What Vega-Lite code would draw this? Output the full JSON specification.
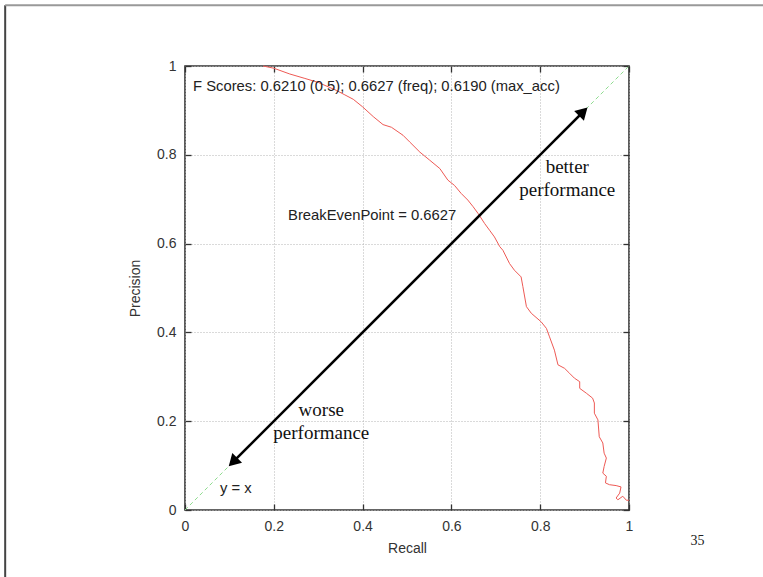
{
  "$schema": "https://vega.github.io/schema/vega-lite/v6.json",
  "width": 444,
  "height": 444,
  "autosize": "none",
  "padding": {"left": 185, "top": 66, "right": 134, "bottom": 67},
  "background": "white",
  "config": {
    "view": {"stroke": "#333333", "strokeWidth": 1.6},
    "axis": {
      "domain": false,
      "labelFont": "Liberation Sans",
      "labelFontSize": 14,
      "labelColor": "#333333",
      "titleFont": "Liberation Sans",
      "titleFontSize": 14,
      "titleFontWeight": "normal",
      "titleColor": "#333333",
      "tickColor": "#333333",
      "tickWidth": 1.3,
      "tickSize": -6,
      "gridColor": "#b5b5b5",
      "gridDash": [1, 2],
      "gridWidth": 1
    }
  },
  "datasets": {
    "diag": [{"recall": 0, "precision": 0}, {"recall": 1, "precision": 1}],
    "pr": [
      {"i": 0, "recall": 0.176, "precision": 1.0},
      {"i": 1, "recall": 0.2, "precision": 0.995},
      {"i": 2, "recall": 0.236, "precision": 0.982},
      {"i": 3, "recall": 0.27, "precision": 0.972},
      {"i": 4, "recall": 0.3, "precision": 0.963},
      {"i": 5, "recall": 0.341, "precision": 0.945},
      {"i": 6, "recall": 0.36, "precision": 0.935},
      {"i": 7, "recall": 0.379, "precision": 0.925},
      {"i": 8, "recall": 0.4, "precision": 0.908},
      {"i": 9, "recall": 0.424, "precision": 0.886},
      {"i": 10, "recall": 0.446, "precision": 0.868},
      {"i": 11, "recall": 0.465, "precision": 0.862},
      {"i": 12, "recall": 0.491, "precision": 0.844},
      {"i": 13, "recall": 0.506, "precision": 0.829},
      {"i": 14, "recall": 0.529, "precision": 0.806},
      {"i": 15, "recall": 0.551, "precision": 0.788},
      {"i": 16, "recall": 0.574, "precision": 0.769},
      {"i": 17, "recall": 0.592, "precision": 0.743},
      {"i": 18, "recall": 0.607, "precision": 0.731},
      {"i": 19, "recall": 0.622, "precision": 0.713},
      {"i": 20, "recall": 0.637, "precision": 0.698},
      {"i": 21, "recall": 0.649, "precision": 0.683},
      {"i": 22, "recall": 0.66, "precision": 0.668},
      {"i": 23, "recall": 0.675, "precision": 0.645},
      {"i": 24, "recall": 0.686, "precision": 0.63},
      {"i": 25, "recall": 0.697, "precision": 0.615},
      {"i": 26, "recall": 0.709, "precision": 0.593},
      {"i": 27, "recall": 0.716, "precision": 0.585},
      {"i": 28, "recall": 0.731, "precision": 0.555},
      {"i": 29, "recall": 0.742, "precision": 0.54},
      {"i": 30, "recall": 0.757, "precision": 0.525},
      {"i": 31, "recall": 0.761, "precision": 0.503},
      {"i": 32, "recall": 0.769, "precision": 0.458},
      {"i": 33, "recall": 0.78, "precision": 0.443},
      {"i": 34, "recall": 0.802, "precision": 0.424},
      {"i": 35, "recall": 0.814, "precision": 0.409},
      {"i": 36, "recall": 0.821, "precision": 0.39},
      {"i": 37, "recall": 0.832, "precision": 0.36},
      {"i": 38, "recall": 0.84, "precision": 0.327},
      {"i": 39, "recall": 0.855, "precision": 0.319},
      {"i": 40, "recall": 0.866, "precision": 0.308},
      {"i": 41, "recall": 0.877, "precision": 0.297},
      {"i": 42, "recall": 0.889, "precision": 0.289},
      {"i": 43, "recall": 0.889, "precision": 0.274},
      {"i": 44, "recall": 0.904, "precision": 0.263},
      {"i": 45, "recall": 0.918, "precision": 0.252},
      {"i": 46, "recall": 0.922, "precision": 0.241},
      {"i": 47, "recall": 0.922, "precision": 0.218},
      {"i": 48, "recall": 0.93, "precision": 0.203},
      {"i": 49, "recall": 0.933, "precision": 0.165},
      {"i": 50, "recall": 0.941, "precision": 0.151},
      {"i": 51, "recall": 0.944, "precision": 0.128},
      {"i": 52, "recall": 0.949, "precision": 0.117},
      {"i": 53, "recall": 0.944, "precision": 0.098},
      {"i": 54, "recall": 0.941, "precision": 0.083},
      {"i": 55, "recall": 0.949, "precision": 0.076},
      {"i": 56, "recall": 0.947, "precision": 0.061},
      {"i": 57, "recall": 0.956, "precision": 0.057},
      {"i": 58, "recall": 0.971, "precision": 0.055},
      {"i": 59, "recall": 0.982, "precision": 0.052},
      {"i": 60, "recall": 0.979, "precision": 0.038},
      {"i": 61, "recall": 0.971, "precision": 0.027},
      {"i": 62, "recall": 0.975, "precision": 0.023},
      {"i": 63, "recall": 0.986, "precision": 0.031},
      {"i": 64, "recall": 0.994, "precision": 0.022},
      {"i": 65, "recall": 1.0, "precision": 0.022}
    ],
    "arrow": [{"x": 0.11, "y": 0.11, "x2": 0.895, "y2": 0.895}],
    "heads": [
      {"x": 0.108, "y": 0.108, "angle": 225},
      {"x": 0.897, "y": 0.897, "angle": 45}
    ],
    "sans": [
      {"x": 0.018, "y": 0.952, "label": "F Scores: 0.6210 (0.5); 0.6627 (freq); 0.6190 (max_acc)"},
      {"x": 0.232, "y": 0.662, "label": "BreakEvenPoint = 0.6627"},
      {"x": 0.079, "y": 0.047, "label": "y = x"}
    ],
    "serif": [
      {"x": 0.861, "y": 0.773, "label": "better"},
      {"x": 0.861, "y": 0.72, "label": "performance"},
      {"x": 0.307, "y": 0.226, "label": "worse"},
      {"x": 0.307, "y": 0.173, "label": "performance"}
    ],
    "page": [{"x": 1.154, "y": -0.069, "label": "35"}],
    "frame": [
      {"x": -0.405, "x2": -0.405, "y": -0.2, "y2": 1.137, "c": "left"},
      {"x": -0.405, "x2": 1.35, "y": 1.137, "y2": 1.137, "c": "top"}
    ]
  },
  "layer": [
    {
      "data": {"name": "diag"},
      "mark": {"type": "line", "color": "#8fdc8f", "strokeWidth": 1, "strokeDash": [4, 3]},
      "encoding": {
        "x": {"field": "recall", "type": "quantitative", "scale": {"domain": [0, 1], "nice": false},
          "axis": {"orient": "bottom", "title": "Recall", "values": [0, 0.2, 0.4, 0.6, 0.8, 1], "format": "~g", "grid": true, "labelPadding": 15, "titlePadding": 8, "labelFlush": false}},
        "y": {"field": "precision", "type": "quantitative", "scale": {"domain": [0, 1], "nice": false},
          "axis": {"orient": "left", "title": "Precision", "values": [0, 0.2, 0.4, 0.6, 0.8, 1], "format": "~g", "grid": true, "labelPadding": 15, "titlePadding": 14, "labelFlush": false}}
      }
    },
    {
      "data": {"name": "pr"},
      "mark": {"type": "line", "color": "#ee5a55", "strokeWidth": 1, "interpolate": "linear"},
      "encoding": {
        "x": {"field": "recall", "type": "quantitative", "scale": {"domain": [0, 1], "nice": false},
          "axis": {"orient": "top", "title": null, "labels": false, "grid": false, "values": [0, 0.2, 0.4, 0.6, 0.8, 1]}},
        "y": {"field": "precision", "type": "quantitative", "scale": {"domain": [0, 1], "nice": false},
          "axis": {"orient": "right", "title": null, "labels": false, "grid": false, "values": [0, 0.2, 0.4, 0.6, 0.8, 1]}},
        "order": {"field": "i", "type": "quantitative"}
      }
    },
    {
      "data": {"name": "arrow"},
      "mark": {"type": "rule", "color": "black", "strokeWidth": 2.6},
      "encoding": {
        "x": {"field": "x", "type": "quantitative", "axis": null},
        "y": {"field": "y", "type": "quantitative", "axis": null},
        "x2": {"field": "x2"},
        "y2": {"field": "y2"}
      }
    },
    {
      "data": {"name": "heads"},
      "mark": {"type": "point", "shape": "triangle-up", "filled": true, "color": "black", "opacity": 1, "size": 190},
      "encoding": {
        "x": {"field": "x", "type": "quantitative", "axis": null},
        "y": {"field": "y", "type": "quantitative", "axis": null},
        "angle": {"field": "angle", "type": "quantitative", "scale": null}
      }
    },
    {
      "data": {"name": "sans"},
      "mark": {"type": "text", "font": "Liberation Sans", "fontSize": 14.8, "color": "#222222", "baseline": "middle", "align": "left"},
      "encoding": {
        "x": {"field": "x", "type": "quantitative", "axis": null},
        "y": {"field": "y", "type": "quantitative", "axis": null},
        "text": {"field": "label"}
      }
    },
    {
      "data": {"name": "serif"},
      "mark": {"type": "text", "font": "Liberation Serif", "fontSize": 19, "color": "#111111", "baseline": "middle", "align": "center"},
      "encoding": {
        "x": {"field": "x", "type": "quantitative", "axis": null},
        "y": {"field": "y", "type": "quantitative", "axis": null},
        "text": {"field": "label"}
      }
    },
    {
      "data": {"name": "page"},
      "mark": {"type": "text", "font": "Liberation Serif", "fontSize": 14, "color": "#222222", "baseline": "middle", "align": "center"},
      "encoding": {
        "x": {"field": "x", "type": "quantitative", "axis": null},
        "y": {"field": "y", "type": "quantitative", "axis": null},
        "text": {"field": "label"}
      }
    },
    {
      "data": {"name": "frame"},
      "mark": {"type": "rule", "strokeWidth": 2},
      "encoding": {
        "x": {"field": "x", "type": "quantitative", "axis": null},
        "y": {"field": "y", "type": "quantitative", "axis": null},
        "x2": {"field": "x2"},
        "y2": {"field": "y2"},
        "color": {"field": "c", "type": "nominal", "scale": {"domain": ["left", "top"], "range": ["#444444", "#999999"]}, "legend": null}
      }
    }
  ],
  "resolve": {"axis": {"x": "independent", "y": "independent"}}
}
